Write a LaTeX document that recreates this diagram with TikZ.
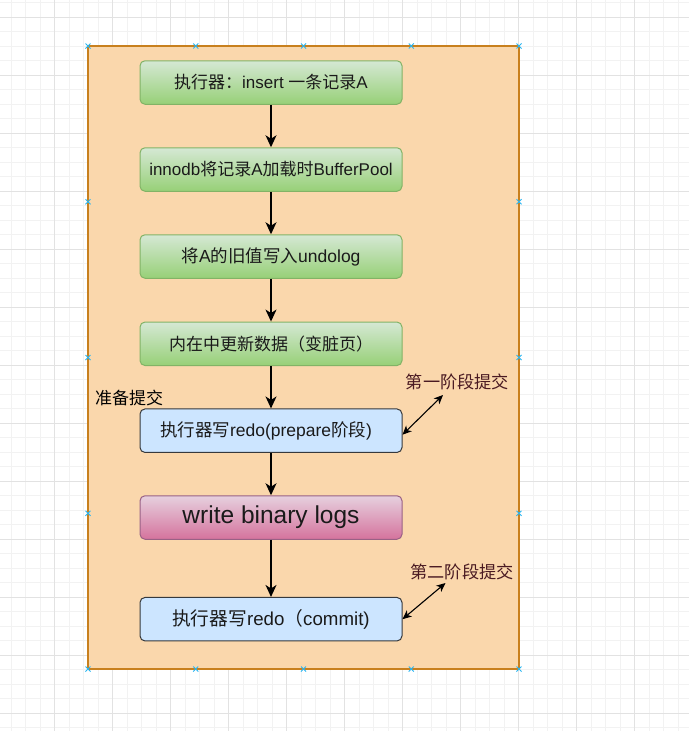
\documentclass[tikz,border=0pt]{standalone}
\usepackage{fontspec}
\setmainfont{Liberation Sans}
\newfontfamily\cjk{Noto Sans CJK SC}
\usetikzlibrary{arrows.meta}
\definecolor{gridminor}{HTML}{F2F2F2}
\definecolor{gridmajor}{HTML}{E2E2E2}
\definecolor{framefill}{HTML}{FAD7AC}
\definecolor{framedraw}{HTML}{C8801E}
\definecolor{greentop}{HTML}{D5E8D4}
\definecolor{greenbot}{HTML}{97D077}
\definecolor{greendraw}{HTML}{82B366}
\definecolor{bluefill}{HTML}{CCE5FF}
\definecolor{bluedraw}{HTML}{36393D}
\definecolor{pinktop}{HTML}{E6D0DE}
\definecolor{pinkbot}{HTML}{D5739D}
\definecolor{pinkdraw}{HTML}{996185}
\definecolor{handle}{HTML}{29B6F2}
\definecolor{phase}{HTML}{4A1A22}
\definecolor{txt}{HTML}{1A1A1A}
\begin{document}
\begin{tikzpicture}[x=1pt,y=-1pt,
  boxbase/.style={rounded corners=5pt, minimum width=262pt, minimum height=43.5pt, inner sep=0pt, line width=1pt, text=txt, font=\fontsize{17}{20}\selectfont},
  greenbox/.style={boxbase, draw=greendraw, top color=greentop, bottom color=greenbot},
  bluebox/.style={boxbase, draw=bluedraw, fill=bluefill},
  pinkbox/.style={boxbase, draw=pinkdraw, top color=pinktop, bottom color=pinkbot, font=\fontsize{24.5}{28}\selectfont},
  flow/.style={-{Stealth[length=12pt,width=11pt,inset=3.5pt]}, line width=1.4pt, black},
  dbl/.style={{Stealth[length=9pt,width=8pt,inset=2.5pt]}-{Stealth[length=9pt,width=8pt,inset=2.5pt]}, line width=1.1pt, black},
  phaselabel/.style={text=phase, font=\fontsize{17.2}{20}\selectfont\cjk, inner sep=0pt},
  hmark/.style={handle, line width=0.9pt}
]
\useasboundingbox (0,0) rectangle (689,731);
\fill[white] (0,0) rectangle (689,731);
% grid
\foreach \k in {0,...,48} {
  \draw[gridminor, line width=0.8pt] ({-3.3+14.5*\k},0) -- ({-3.3+14.5*\k},731);
}
\foreach \k in {-1,...,50} {
  \draw[gridminor, line width=0.8pt] (0,{17.3+14.5*\k}) -- (689,{17.3+14.5*\k});
}
\foreach \k in {0,...,12} {
  \draw[gridmajor, line width=0.9pt] ({-3.3+58*\k},0) -- ({-3.3+58*\k},731);
  \draw[gridmajor, line width=0.9pt] (0,{17.3+58*\k}) -- (689,{17.3+58*\k});
}
% container
\draw[framedraw, fill=framefill, line width=1.3pt] (88,46) rectangle (519,669);
% handles
\foreach \hx/\hy in {88/46,195.75/46,303.5/46,411.25/46,519/46,
                     88/669,195.75/669,303.5/669,411.25/669,519/669,
                     88/201.75,88/357.5,88/513.25,519/201.75,519/357.5,519/513.25} {
  \draw[hmark] (\hx-2.5,\hy-2.5) -- (\hx+2.5,\hy+2.5);
  \draw[hmark] (\hx-2.5,\hy+2.5) -- (\hx+2.5,\hy-2.5);
}
% boxes
\node[greenbox] (b1) at (271,82.5) {{\cjk 执行器：}insert {\cjk 一条记录}A};
\node[greenbox] (b2) at (271,169.5) {innodb{\cjk 将记录}A{\cjk 加载时}BufferPool};
\node[greenbox, font=\fontsize{17.5}{20}\selectfont] (b3) at (271,256.5) {{\cjk 将}A{\cjk 的旧值写入}undolog};
\node[greenbox] (b4) at (271,343.8) {{\cjk 内在中更新数据（变脏页）}};
\node[bluebox, font=\fontsize{17.5}{20}\selectfont] (b5) at (271,430.7) {{\cjk 执行器写}redo(prepare{\cjk 阶段})\hspace*{10pt}};
\node[pinkbox] (b6) at (271,517.5) {write binary logs};
\node[bluebox, font=\fontsize{18.7}{22}\selectfont] (b7) at (271,619.2) {{\cjk 执行器写}redo{\cjk （}commit)};
% flow arrows
\draw[flow] (b1) -- (b2);
\draw[flow] (b2) -- (b3);
\draw[flow] (b3) -- (b4);
\draw[flow] (b4) -- (b5);
\draw[flow] (b5) -- (b6);
\draw[flow] (b6) -- (b7);
% labels
\node[text=black, font=\fontsize{17}{20}\selectfont\cjk, inner sep=0pt] (prep) at (129,398) {准备提交};
\node[phaselabel] (ph1) at (457.5,382) {第一阶段提交};
\node[phaselabel] (ph2) at (462,572) {第二阶段提交};
\coordinate (t1) at (443,395);
\coordinate (t2) at (445.5,583);
\draw[dbl] (t1) -- ([yshift=-4pt]b5.east);
\draw[dbl] (t2) -- (b7.east);
\end{tikzpicture}
\end{document}
